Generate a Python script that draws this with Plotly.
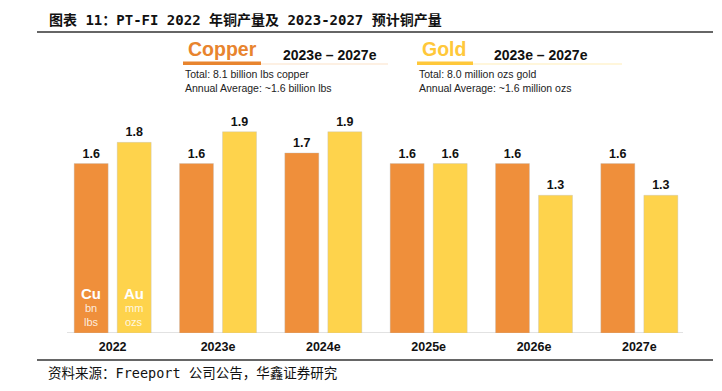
import plotly.graph_objects as go

categories = ["2022", "2023e", "2024e", "2025e", "2026e", "2027e"]
copper = [1.6, 1.6, 1.7, 1.6, 1.6, 1.6]
gold = [1.8, 1.9, 1.9, 1.6, 1.3, 1.3]

title_text = "图表 11：PT-FI 2022 年铜产量及 2023-2027 预计铜产量"
source_text = "资料来源：Freeport 公司公告，华鑫证券研究"

ORANGE = "#EF8F3B"
GOLD = "#FED34C"
W, H = 722, 391
L, R, T, B = 60, 30, 100, 58
PW, PH = W - L - R, H - T - B


def px(x):
    return (x - L) / PW


def py(y):
    return (H - B - y) / PH


fig = go.Figure()
fig.add_trace(go.Bar(
    x=categories, y=copper, name="Copper", marker_color=ORANGE,
    marker_line=dict(color="rgba(190,190,190,0.45)", width=0.8),
    text=[f"{v:.1f}" for v in copper], textposition="outside",
    textfont=dict(family="Liberation Sans, Arial", size=12.5, color="#111", weight="bold"),
    cliponaxis=False,
))
fig.add_trace(go.Bar(
    x=categories, y=gold, name="Gold", marker_color=GOLD,
    marker_line=dict(color="rgba(190,190,190,0.45)", width=0.8),
    text=[f"{v:.1f}" for v in gold], textposition="outside",
    textfont=dict(family="Liberation Sans, Arial", size=12.5, color="#111", weight="bold"),
    cliponaxis=False,
))

shapes = []
annotations = []

# title and top rule
annotations.append(dict(x=px(47), y=py(20), xref="paper", yref="paper", text=title_text,
                        showarrow=False, xanchor="left", yanchor="middle",
                        font=dict(family="DejaVu Sans Mono, Noto Sans CJK SC", size=14, color="#111", weight="bold")))
shapes.append(dict(type="line", xref="paper", yref="paper", x0=px(37), x1=px(713), y0=py(32), y1=py(32),
                   line=dict(color="#333", width=1.5)))
# footer rule and text
shapes.append(dict(type="line", xref="paper", yref="paper", x0=px(37), x1=px(713), y0=py(360), y1=py(360),
                   line=dict(color="#333", width=1.5)))
annotations.append(dict(x=px(46), y=py(373), xref="paper", yref="paper", text=source_text,
                        showarrow=False, xanchor="left", yanchor="middle",
                        font=dict(family="DejaVu Sans Mono, Noto Sans CJK SC", size=13.5, color="#111")))
# baseline
shapes.append(dict(type="line", xref="paper", yref="y", x0=px(67), x1=px(683), y0=0, y1=0,
                   line=dict(color="#E2E2E2", width=2), layer="below"))

# header blocks
headers = [
    ("Copper", "#E8842E", 183, 261, 388, "#FBE1C8", 281,
     ["Total: 8.1 billion lbs copper", "Annual Average: ~1.6 billion lbs"]),
    ("Gold", "#FFC83A", 417, 473, 622, "#FFEDB8", 492,
     ["Total: 8.0 million ozs gold", "Annual Average: ~1.6 million ozs"]),
]
for name, col, x0, x1, x2, light, xr, lines in headers:
    annotations.append(dict(x=px(x0 + 3), y=py(49), xref="paper", yref="paper", text=name,
                            showarrow=False, xanchor="left", yanchor="middle",
                            font=dict(family="Liberation Sans, Arial", size=19.5, color=col, weight="bold")))
    shapes.append(dict(type="rect", xref="paper", yref="paper", x0=px(x0), x1=px(x1), y0=py(65), y1=py(61.5),
                       fillcolor=col, line=dict(width=0)))
    shapes.append(dict(type="line", xref="paper", yref="paper", x0=px(x1), x1=px(x2), y0=py(64), y1=py(64),
                       line=dict(color=light, width=1.2)))
    annotations.append(dict(x=px(xr), y=py(55), xref="paper", yref="paper", text="2023e – 2027e",
                            showarrow=False, xanchor="left", yanchor="middle",
                            font=dict(family="Liberation Sans, Arial", size=14, color="#111", weight="bold")))
    for i, t in enumerate(lines):
        annotations.append(dict(x=px(x0), y=py(74 + 14 * i), xref="paper", yref="paper", text=t,
                                showarrow=False, xanchor="left", yanchor="middle",
                                font=dict(family="Liberation Sans, Arial", size=10.5, color="#222")))

# in-bar unit labels
for shift, big, small in [(-21.5, "Cu", ["bn", "lbs"]), (21.5, "Au", ["mm", "ozs"])]:
    annotations.append(dict(x=0, y=0, xref="x", yref="y", text=big, xshift=shift, yshift=333 - 293,
                            showarrow=False, xanchor="center", yanchor="middle",
                            font=dict(family="Liberation Sans, Arial", size=15, color="white", weight="bold")))
    for j, s in enumerate(small):
        annotations.append(dict(x=0, y=0, xref="x", yref="y", text=s, xshift=shift,
                                yshift=333 - (308 + 13.5 * j),
                                showarrow=False, xanchor="center", yanchor="middle",
                                font=dict(family="Liberation Sans, Arial", size=11, color="rgba(255,255,255,0.85)")))

fig.update_layout(
    width=W, height=H,
    margin=dict(l=L, r=R, t=T, b=B),
    paper_bgcolor="white", plot_bgcolor="white",
    barmode="group", bargap=0.183, bargroupgap=0.21,
    showlegend=False,
    shapes=shapes, annotations=annotations,
    xaxis=dict(type="category", range=[-0.5, 5.5], showgrid=False, showline=False, zeroline=False, ticks="",
               tickmode="array", tickvals=categories, ticktext=[f"<b>{c}</b>" for c in categories],
               ticklabelstandoff=4, automargin=False,
               tickfont=dict(family="Liberation Sans, Arial", size=12.5, color="#111")),
    yaxis=dict(range=[0, 2.2], visible=False),
)

fig.write_html("out.html", config={"displayModeBar": False},
               post_script="document.body.style.margin='0';document.body.style.padding='0';")
